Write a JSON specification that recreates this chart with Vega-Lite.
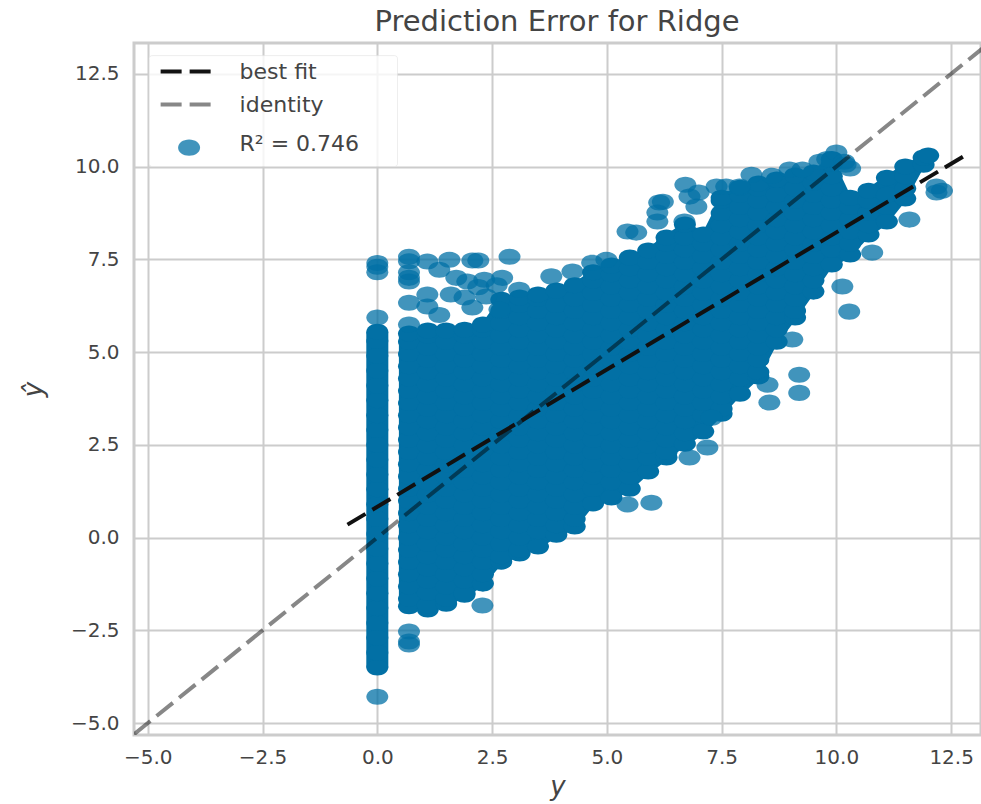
{"$schema":"https://vega.github.io/schema/vega-lite/v6.json","width":847,"height":692,"autosize":{"type":"none"},"padding":{"left":134,"top":43,"right":0,"bottom":69},"background":"white",
"title":{"text":"Prediction Error for Ridge","font":"DejaVu Sans","fontSize":29,"fontWeight":"normal","color":"#444444","anchor":"start","offset":6,"dx":354},
"config":{"view":{"stroke":"#cccccc","strokeWidth":3},"axis":{"grid":true,"gridColor":"#cccccc","gridWidth":2,"domain":false,"ticks":false,"labelFont":"DejaVu Sans","labelFontSize":20,"labelColor":"#444444","titleFont":"DejaVu Sans","titleFontSize":26,"titleFontStyle":"italic","titleFontWeight":"normal","titleColor":"#444444"}},
"datasets":{
"mass":[
{"g":"zero","x":-0.24,"lo":-3.5,"hi":5.55},{"g":"zero","x":0.24,"lo":-3.5,"hi":5.55},
{"g":"main","x":0.47,"lo":-1.85,"hi":5.5},{"g":"main","x":0.69,"lo":-1.93,"hi":5.58},{"g":"main","x":1.1,"lo":-2.02,"hi":5.66},{"g":"main","x":1.5,"lo":-1.86,"hi":5.66},{"g":"main","x":1.9,"lo":-1.62,"hi":5.68},{"g":"main","x":2.3,"lo":-1.32,"hi":5.82},{"g":"main","x":2.7,"lo":-0.73,"hi":6.49},{"g":"main","x":3.1,"lo":-0.51,"hi":6.55},{"g":"main","x":3.5,"lo":-0.32,"hi":6.63},{"g":"main","x":3.9,"lo":0,"hi":6.74},{"g":"main","x":4.3,"lo":0.22,"hi":6.88},{"g":"main","x":4.7,"lo":0.84,"hi":7.23},{"g":"main","x":5.1,"lo":1,"hi":7.41},{"g":"main","x":5.5,"lo":1.24,"hi":7.63},{"g":"main","x":5.9,"lo":1.7,"hi":7.82},{"g":"main","x":6.3,"lo":2.08,"hi":8.17},{"g":"main","x":6.7,"lo":2.45,"hi":8.52},{"g":"main","x":7.1,"lo":2.78,"hi":8.25},{"g":"main","x":7.5,"lo":3.26,"hi":9.24},{"g":"main","x":7.9,"lo":3.8,"hi":9.51},{"g":"main","x":8.3,"lo":4.26,"hi":9.62},{"g":"main","x":8.7,"lo":5.2,"hi":9.73},{"g":"main","x":9.1,"lo":5.85,"hi":9.84},{"g":"main","x":9.5,"lo":6.55,"hi":9.92},{"g":"main","x":9.9,"lo":7.28,"hi":10.28},{"g":"main","x":10.3,"lo":7.55,"hi":9.24},{"g":"main","x":10.7,"lo":8.09,"hi":9.43},{"g":"main","x":11.1,"lo":8.44,"hi":9.78},{"g":"main","x":11.5,"lo":9.06,"hi":10.08},{"g":"main","x":11.9,"lo":9.97,"hi":10.32}
],
"core":[
{"x":0,"y":-3.5},{"x":0,"y":-3.1},{"x":0,"y":-2.7},{"x":0,"y":-2.3},{"x":0,"y":-1.9},{"x":0,"y":-1.5},{"x":0,"y":-1.1},{"x":0,"y":-0.7},{"x":0,"y":-0.3},{"x":0,"y":0.1},{"x":0,"y":0.5},{"x":0,"y":0.9},{"x":0,"y":1.3},{"x":0,"y":1.7},{"x":0,"y":2.1},{"x":0,"y":2.5},{"x":0,"y":2.9},{"x":0,"y":3.3},{"x":0,"y":3.7},{"x":0,"y":4.1},{"x":0,"y":4.5},{"x":0,"y":4.9},{"x":0,"y":5.3},{"x":0,"y":5.55},
{"x":0.69,"y":-1.85},{"x":0.69,"y":-1.65},{"x":0.69,"y":-1.32},{"x":0.69,"y":-0.99},{"x":0.69,"y":-0.66},{"x":0.69,"y":-0.33},{"x":0.69,"y":0},{"x":0.69,"y":0.33},{"x":0.69,"y":0.66},{"x":0.69,"y":0.99},{"x":0.69,"y":1.32},{"x":0.69,"y":1.65},{"x":0.69,"y":1.98},{"x":0.69,"y":2.31},{"x":0.69,"y":2.64},{"x":0.69,"y":2.97},{"x":0.69,"y":3.3},{"x":0.69,"y":3.63},{"x":0.69,"y":3.96},{"x":0.69,"y":4.29},{"x":0.69,"y":4.62},{"x":0.69,"y":4.95},{"x":0.69,"y":5.28},{"x":0.69,"y":5.5},
{"x":1.1,"y":-1.94},{"x":1.1,"y":-1.82},{"x":1.1,"y":-1.49},{"x":1.1,"y":-1.16},{"x":1.1,"y":-0.83},{"x":1.1,"y":-0.5},{"x":1.1,"y":-0.17},{"x":1.1,"y":0.17},{"x":1.1,"y":0.5},{"x":1.1,"y":0.83},{"x":1.1,"y":1.16},{"x":1.1,"y":1.49},{"x":1.1,"y":1.82},{"x":1.1,"y":2.15},{"x":1.1,"y":2.48},{"x":1.1,"y":2.81},{"x":1.1,"y":3.14},{"x":1.1,"y":3.47},{"x":1.1,"y":3.8},{"x":1.1,"y":4.13},{"x":1.1,"y":4.46},{"x":1.1,"y":4.79},{"x":1.1,"y":5.12},{"x":1.1,"y":5.45},{"x":1.1,"y":5.58},
{"x":1.5,"y":-1.78},{"x":1.5,"y":-1.65},{"x":1.5,"y":-1.32},{"x":1.5,"y":-0.99},{"x":1.5,"y":-0.66},{"x":1.5,"y":-0.33},{"x":1.5,"y":0},{"x":1.5,"y":0.33},{"x":1.5,"y":0.66},{"x":1.5,"y":0.99},{"x":1.5,"y":1.32},{"x":1.5,"y":1.65},{"x":1.5,"y":1.98},{"x":1.5,"y":2.31},{"x":1.5,"y":2.64},{"x":1.5,"y":2.97},{"x":1.5,"y":3.3},{"x":1.5,"y":3.63},{"x":1.5,"y":3.96},{"x":1.5,"y":4.29},{"x":1.5,"y":4.62},{"x":1.5,"y":4.95},{"x":1.5,"y":5.28},{"x":1.5,"y":5.58},
{"x":1.9,"y":-1.54},{"x":1.9,"y":-1.49},{"x":1.9,"y":-1.16},{"x":1.9,"y":-0.83},{"x":1.9,"y":-0.5},{"x":1.9,"y":-0.17},{"x":1.9,"y":0.17},{"x":1.9,"y":0.5},{"x":1.9,"y":0.83},{"x":1.9,"y":1.16},{"x":1.9,"y":1.49},{"x":1.9,"y":1.82},{"x":1.9,"y":2.15},{"x":1.9,"y":2.48},{"x":1.9,"y":2.81},{"x":1.9,"y":3.14},{"x":1.9,"y":3.47},{"x":1.9,"y":3.8},{"x":1.9,"y":4.13},{"x":1.9,"y":4.46},{"x":1.9,"y":4.79},{"x":1.9,"y":5.12},{"x":1.9,"y":5.45},{"x":1.9,"y":5.6},
{"x":2.3,"y":-1.24},{"x":2.3,"y":-0.99},{"x":2.3,"y":-0.66},{"x":2.3,"y":-0.33},{"x":2.3,"y":0},{"x":2.3,"y":0.33},{"x":2.3,"y":0.66},{"x":2.3,"y":0.99},{"x":2.3,"y":1.32},{"x":2.3,"y":1.65},{"x":2.3,"y":1.98},{"x":2.3,"y":2.31},{"x":2.3,"y":2.64},{"x":2.3,"y":2.97},{"x":2.3,"y":3.3},{"x":2.3,"y":3.63},{"x":2.3,"y":3.96},{"x":2.3,"y":4.29},{"x":2.3,"y":4.62},{"x":2.3,"y":4.95},{"x":2.3,"y":5.28},{"x":2.3,"y":5.61},{"x":2.3,"y":5.74},
{"x":2.7,"y":-0.65},{"x":2.7,"y":-0.5},{"x":2.7,"y":-0.17},{"x":2.7,"y":0.17},{"x":2.7,"y":0.5},{"x":2.7,"y":0.83},{"x":2.7,"y":1.16},{"x":2.7,"y":1.49},{"x":2.7,"y":1.82},{"x":2.7,"y":2.15},{"x":2.7,"y":2.48},{"x":2.7,"y":2.81},{"x":2.7,"y":3.14},{"x":2.7,"y":3.47},{"x":2.7,"y":3.8},{"x":2.7,"y":4.13},{"x":2.7,"y":4.46},{"x":2.7,"y":4.79},{"x":2.7,"y":5.12},{"x":2.7,"y":5.45},{"x":2.7,"y":5.78},{"x":2.7,"y":6.11},{"x":2.7,"y":6.41},
{"x":3.1,"y":-0.43},{"x":3.1,"y":-0.33},{"x":3.1,"y":0},{"x":3.1,"y":0.33},{"x":3.1,"y":0.66},{"x":3.1,"y":0.99},{"x":3.1,"y":1.32},{"x":3.1,"y":1.65},{"x":3.1,"y":1.98},{"x":3.1,"y":2.31},{"x":3.1,"y":2.64},{"x":3.1,"y":2.97},{"x":3.1,"y":3.3},{"x":3.1,"y":3.63},{"x":3.1,"y":3.96},{"x":3.1,"y":4.29},{"x":3.1,"y":4.62},{"x":3.1,"y":4.95},{"x":3.1,"y":5.28},{"x":3.1,"y":5.61},{"x":3.1,"y":5.94},{"x":3.1,"y":6.27},{"x":3.1,"y":6.47},
{"x":3.5,"y":-0.24},{"x":3.5,"y":0.17},{"x":3.5,"y":0.5},{"x":3.5,"y":0.83},{"x":3.5,"y":1.16},{"x":3.5,"y":1.49},{"x":3.5,"y":1.82},{"x":3.5,"y":2.15},{"x":3.5,"y":2.48},{"x":3.5,"y":2.81},{"x":3.5,"y":3.14},{"x":3.5,"y":3.47},{"x":3.5,"y":3.8},{"x":3.5,"y":4.13},{"x":3.5,"y":4.46},{"x":3.5,"y":4.79},{"x":3.5,"y":5.12},{"x":3.5,"y":5.45},{"x":3.5,"y":5.78},{"x":3.5,"y":6.11},{"x":3.5,"y":6.44},{"x":3.5,"y":6.55},
{"x":3.9,"y":0.08},{"x":3.9,"y":0.33},{"x":3.9,"y":0.66},{"x":3.9,"y":0.99},{"x":3.9,"y":1.32},{"x":3.9,"y":1.65},{"x":3.9,"y":1.98},{"x":3.9,"y":2.31},{"x":3.9,"y":2.64},{"x":3.9,"y":2.97},{"x":3.9,"y":3.3},{"x":3.9,"y":3.63},{"x":3.9,"y":3.96},{"x":3.9,"y":4.29},{"x":3.9,"y":4.62},{"x":3.9,"y":4.95},{"x":3.9,"y":5.28},{"x":3.9,"y":5.61},{"x":3.9,"y":5.94},{"x":3.9,"y":6.27},{"x":3.9,"y":6.66},
{"x":4.3,"y":0.3},{"x":4.3,"y":0.5},{"x":4.3,"y":0.83},{"x":4.3,"y":1.16},{"x":4.3,"y":1.49},{"x":4.3,"y":1.82},{"x":4.3,"y":2.15},{"x":4.3,"y":2.48},{"x":4.3,"y":2.81},{"x":4.3,"y":3.14},{"x":4.3,"y":3.47},{"x":4.3,"y":3.8},{"x":4.3,"y":4.13},{"x":4.3,"y":4.46},{"x":4.3,"y":4.79},{"x":4.3,"y":5.12},{"x":4.3,"y":5.45},{"x":4.3,"y":5.78},{"x":4.3,"y":6.11},{"x":4.3,"y":6.44},{"x":4.3,"y":6.8},
{"x":4.7,"y":0.92},{"x":4.7,"y":1.32},{"x":4.7,"y":1.65},{"x":4.7,"y":1.98},{"x":4.7,"y":2.31},{"x":4.7,"y":2.64},{"x":4.7,"y":2.97},{"x":4.7,"y":3.3},{"x":4.7,"y":3.63},{"x":4.7,"y":3.96},{"x":4.7,"y":4.29},{"x":4.7,"y":4.62},{"x":4.7,"y":4.95},{"x":4.7,"y":5.28},{"x":4.7,"y":5.61},{"x":4.7,"y":5.94},{"x":4.7,"y":6.27},{"x":4.7,"y":6.6},{"x":4.7,"y":6.93},{"x":4.7,"y":7.15},
{"x":5.1,"y":1.08},{"x":5.1,"y":1.49},{"x":5.1,"y":1.82},{"x":5.1,"y":2.15},{"x":5.1,"y":2.48},{"x":5.1,"y":2.81},{"x":5.1,"y":3.14},{"x":5.1,"y":3.47},{"x":5.1,"y":3.8},{"x":5.1,"y":4.13},{"x":5.1,"y":4.46},{"x":5.1,"y":4.79},{"x":5.1,"y":5.12},{"x":5.1,"y":5.45},{"x":5.1,"y":5.78},{"x":5.1,"y":6.11},{"x":5.1,"y":6.44},{"x":5.1,"y":6.77},{"x":5.1,"y":7.1},{"x":5.1,"y":7.33},
{"x":5.5,"y":1.32},{"x":5.5,"y":1.65},{"x":5.5,"y":1.98},{"x":5.5,"y":2.31},{"x":5.5,"y":2.64},{"x":5.5,"y":2.97},{"x":5.5,"y":3.3},{"x":5.5,"y":3.63},{"x":5.5,"y":3.96},{"x":5.5,"y":4.29},{"x":5.5,"y":4.62},{"x":5.5,"y":4.95},{"x":5.5,"y":5.28},{"x":5.5,"y":5.61},{"x":5.5,"y":5.94},{"x":5.5,"y":6.27},{"x":5.5,"y":6.6},{"x":5.5,"y":6.93},{"x":5.5,"y":7.26},{"x":5.5,"y":7.55},
{"x":5.9,"y":1.78},{"x":5.9,"y":2.15},{"x":5.9,"y":2.48},{"x":5.9,"y":2.81},{"x":5.9,"y":3.14},{"x":5.9,"y":3.47},{"x":5.9,"y":3.8},{"x":5.9,"y":4.13},{"x":5.9,"y":4.46},{"x":5.9,"y":4.79},{"x":5.9,"y":5.12},{"x":5.9,"y":5.45},{"x":5.9,"y":5.78},{"x":5.9,"y":6.11},{"x":5.9,"y":6.44},{"x":5.9,"y":6.77},{"x":5.9,"y":7.1},{"x":5.9,"y":7.43},{"x":5.9,"y":7.74},
{"x":6.3,"y":2.16},{"x":6.3,"y":2.31},{"x":6.3,"y":2.64},{"x":6.3,"y":2.97},{"x":6.3,"y":3.3},{"x":6.3,"y":3.63},{"x":6.3,"y":3.96},{"x":6.3,"y":4.29},{"x":6.3,"y":4.62},{"x":6.3,"y":4.95},{"x":6.3,"y":5.28},{"x":6.3,"y":5.61},{"x":6.3,"y":5.94},{"x":6.3,"y":6.27},{"x":6.3,"y":6.6},{"x":6.3,"y":6.93},{"x":6.3,"y":7.26},{"x":6.3,"y":7.59},{"x":6.3,"y":7.92},{"x":6.3,"y":8.09},
{"x":6.7,"y":2.53},{"x":6.7,"y":2.81},{"x":6.7,"y":3.14},{"x":6.7,"y":3.47},{"x":6.7,"y":3.8},{"x":6.7,"y":4.13},{"x":6.7,"y":4.46},{"x":6.7,"y":4.79},{"x":6.7,"y":5.12},{"x":6.7,"y":5.45},{"x":6.7,"y":5.78},{"x":6.7,"y":6.11},{"x":6.7,"y":6.44},{"x":6.7,"y":6.77},{"x":6.7,"y":7.1},{"x":6.7,"y":7.43},{"x":6.7,"y":7.76},{"x":6.7,"y":8.09},{"x":6.7,"y":8.44},
{"x":7.1,"y":2.86},{"x":7.1,"y":3.3},{"x":7.1,"y":3.63},{"x":7.1,"y":3.96},{"x":7.1,"y":4.29},{"x":7.1,"y":4.62},{"x":7.1,"y":4.95},{"x":7.1,"y":5.28},{"x":7.1,"y":5.61},{"x":7.1,"y":5.94},{"x":7.1,"y":6.27},{"x":7.1,"y":6.6},{"x":7.1,"y":6.93},{"x":7.1,"y":7.26},{"x":7.1,"y":7.59},{"x":7.1,"y":7.92},{"x":7.1,"y":8.17},
{"x":7.5,"y":3.34},{"x":7.5,"y":3.47},{"x":7.5,"y":3.8},{"x":7.5,"y":4.13},{"x":7.5,"y":4.46},{"x":7.5,"y":4.79},{"x":7.5,"y":5.12},{"x":7.5,"y":5.45},{"x":7.5,"y":5.78},{"x":7.5,"y":6.11},{"x":7.5,"y":6.44},{"x":7.5,"y":6.77},{"x":7.5,"y":7.1},{"x":7.5,"y":7.43},{"x":7.5,"y":7.76},{"x":7.5,"y":8.09},{"x":7.5,"y":8.42},{"x":7.5,"y":8.75},{"x":7.5,"y":9.08},{"x":7.5,"y":9.16},
{"x":7.9,"y":3.88},{"x":7.9,"y":4.29},{"x":7.9,"y":4.62},{"x":7.9,"y":4.95},{"x":7.9,"y":5.28},{"x":7.9,"y":5.61},{"x":7.9,"y":5.94},{"x":7.9,"y":6.27},{"x":7.9,"y":6.6},{"x":7.9,"y":6.93},{"x":7.9,"y":7.26},{"x":7.9,"y":7.59},{"x":7.9,"y":7.92},{"x":7.9,"y":8.25},{"x":7.9,"y":8.58},{"x":7.9,"y":8.91},{"x":7.9,"y":9.24},{"x":7.9,"y":9.43},
{"x":8.3,"y":4.34},{"x":8.3,"y":4.46},{"x":8.3,"y":4.79},{"x":8.3,"y":5.12},{"x":8.3,"y":5.45},{"x":8.3,"y":5.78},{"x":8.3,"y":6.11},{"x":8.3,"y":6.44},{"x":8.3,"y":6.77},{"x":8.3,"y":7.1},{"x":8.3,"y":7.43},{"x":8.3,"y":7.76},{"x":8.3,"y":8.09},{"x":8.3,"y":8.42},{"x":8.3,"y":8.75},{"x":8.3,"y":9.08},{"x":8.3,"y":9.41},{"x":8.3,"y":9.54},
{"x":8.7,"y":5.28},{"x":8.7,"y":5.61},{"x":8.7,"y":5.94},{"x":8.7,"y":6.27},{"x":8.7,"y":6.6},{"x":8.7,"y":6.93},{"x":8.7,"y":7.26},{"x":8.7,"y":7.59},{"x":8.7,"y":7.92},{"x":8.7,"y":8.25},{"x":8.7,"y":8.58},{"x":8.7,"y":8.91},{"x":8.7,"y":9.24},{"x":8.7,"y":9.65},
{"x":9.1,"y":5.93},{"x":9.1,"y":6.11},{"x":9.1,"y":6.44},{"x":9.1,"y":6.77},{"x":9.1,"y":7.1},{"x":9.1,"y":7.43},{"x":9.1,"y":7.76},{"x":9.1,"y":8.09},{"x":9.1,"y":8.42},{"x":9.1,"y":8.75},{"x":9.1,"y":9.08},{"x":9.1,"y":9.41},{"x":9.1,"y":9.76},
{"x":9.5,"y":6.63},{"x":9.5,"y":6.93},{"x":9.5,"y":7.26},{"x":9.5,"y":7.59},{"x":9.5,"y":7.92},{"x":9.5,"y":8.25},{"x":9.5,"y":8.58},{"x":9.5,"y":8.91},{"x":9.5,"y":9.24},{"x":9.5,"y":9.57},{"x":9.5,"y":9.84},
{"x":9.9,"y":7.36},{"x":9.9,"y":7.76},{"x":9.9,"y":8.09},{"x":9.9,"y":8.42},{"x":9.9,"y":8.75},{"x":9.9,"y":9.08},{"x":9.9,"y":9.41},{"x":9.9,"y":9.74},{"x":9.9,"y":10.07},{"x":9.9,"y":10.2},
{"x":10.3,"y":7.63},{"x":10.3,"y":7.92},{"x":10.3,"y":8.25},{"x":10.3,"y":8.58},{"x":10.3,"y":8.91},{"x":10.3,"y":9.16},
{"x":10.7,"y":8.17},{"x":10.7,"y":8.42},{"x":10.7,"y":8.75},{"x":10.7,"y":9.08},{"x":10.7,"y":9.35},
{"x":11.1,"y":8.52},{"x":11.1,"y":8.91},{"x":11.1,"y":9.24},{"x":11.1,"y":9.7},
{"x":11.5,"y":9.14},{"x":11.5,"y":9.41},{"x":11.5,"y":9.74},{"x":11.5,"y":10.0},
{"x":11.9,"y":10.05},{"x":11.9,"y":10.24},{"x":12.0,"y":10.3}
],
"edge":[
{"x":0,"y":7.4},{"x":0,"y":7.3},{"x":0,"y":7.15},{"x":0,"y":5.93},{"x":0,"y":-4.29},
{"x":0.69,"y":7.57},{"x":0.69,"y":7.45},{"x":0.69,"y":7.15},{"x":0.69,"y":7.0},{"x":0.69,"y":6.9},{"x":0.69,"y":6.33},{"x":0.69,"y":5.74},{"x":0.69,"y":-2.53},{"x":0.69,"y":-2.8},{"x":0.69,"y":-2.88},
{"x":1.09,"y":7.44},{"x":1.35,"y":7.22},{"x":1.57,"y":7.49},{"x":2.07,"y":7.47},{"x":2.2,"y":7.47},{"x":2.88,"y":7.57},{"x":1.72,"y":7.0},{"x":1.96,"y":6.9},{"x":2.33,"y":6.95},{"x":2.72,"y":7.0},{"x":2.6,"y":6.8},{"x":2.2,"y":6.75},{"x":1.09,"y":6.55},{"x":1.09,"y":6.23},{"x":1.35,"y":6.0},{"x":1.6,"y":6.55},{"x":1.9,"y":6.47},{"x":2.07,"y":6.2},{"x":2.37,"y":6.5},{"x":2.66,"y":6.15},{"x":3.09,"y":6.68},{"x":3.79,"y":7.04},{"x":4.25,"y":7.17},{"x":4.68,"y":7.41},{"x":4.99,"y":7.49},
{"x":5.45,"y":8.25},{"x":5.64,"y":8.22},{"x":6.14,"y":9.03},{"x":6.22,"y":9.05},{"x":6.1,"y":8.76},{"x":6.1,"y":8.52},{"x":6.71,"y":9.51},{"x":6.8,"y":9.19},{"x":6.95,"y":8.92},{"x":7.0,"y":9.3},{"x":6.69,"y":8.52},{"x":7.39,"y":9.46},{"x":7.6,"y":9.46},{"x":8.15,"y":9.78},{"x":7.89,"y":9.46},{"x":8.6,"y":9.75},{"x":8.98,"y":9.92},{"x":9.26,"y":9.92},{"x":9.63,"y":10.13},{"x":9.8,"y":10.2},{"x":10.0,"y":10.38},{"x":10.17,"y":10.13},{"x":10.2,"y":10.05},{"x":10.3,"y":9.95},
{"x":2.29,"y":-1.83},{"x":5.45,"y":0.89},{"x":5.97,"y":0.94},{"x":6.8,"y":2.16},{"x":7.19,"y":2.43},{"x":7.28,"y":3.23},{"x":8.54,"y":3.64},{"x":8.5,"y":4.12},{"x":9.19,"y":3.9},{"x":9.19,"y":4.39},{"x":9.04,"y":5.34},{"x":10.28,"y":6.09},{"x":10.13,"y":6.77},{"x":10.78,"y":7.68},{"x":11.59,"y":8.57},{"x":12.18,"y":9.46},{"x":12.18,"y":9.3},{"x":12.3,"y":9.35}
],
"fits":[
{"series":"best fit","x":-0.65,"y":0.35},{"series":"best fit","x":12.83,"y":10.32},
{"series":"identity","x":-5.3,"y":-5.3},{"series":"identity","x":13.34,"y":13.34}
],
"key":[
{"series":"best fit","x":-4.72,"x2":-3.59,"y":12.56,"tx":-3.0,"ty":12.56,"label":"best fit"},
{"series":"identity","x":-4.72,"x2":-3.59,"y":11.67,"tx":-3.0,"ty":11.67,"label":"identity"},
{"series":"r2","x":-4.1,"y":10.51,"tx":-3.0,"ty":10.62,"label":"R² = 0.746"}
]
},
"encoding":{
"x":{"field":"x","type":"quantitative","scale":{"domain":[-5.3,13.15],"nice":false,"zero":false},"axis":{"values":[-5,-2.5,0,2.5,5,7.5,10,12.5],"format":".1f","title":"y","labelPadding":12,"titlePadding":6}},
"y":{"field":"y","type":"quantitative","scale":{"domain":[-5.32,13.33],"nice":false,"zero":false},"axis":{"values":[-5,-2.5,0,2.5,5,7.5,10,12.5],"format":".1f","title":"ŷ","labelPadding":15,"titlePadding":24}}
},
"layer":[
{"data":{"name":"mass"},"mark":{"type":"area","color":"#0270a5","opacity":1},"encoding":{"y":{"field":"hi","type":"quantitative"},"y2":{"field":"lo"},"detail":{"field":"g"}}},
{"data":{"name":"core"},"mark":{"type":"point","filled":true,"shape":"M-1,0A1,.73,0,1,1,1,0A1,.73,0,1,1,-1,0Z","size":484,"opacity":1,"color":"#0270a5"}},
{"data":{"name":"edge"},"mark":{"type":"point","filled":true,"shape":"M-1,0A1,.73,0,1,1,1,0A1,.73,0,1,1,-1,0Z","size":484,"opacity":0.75,"color":"#0270a5"}},
{"data":{"name":"fits"},"transform":[{"filter":"datum.series==='identity'"}],"mark":{"type":"line","color":"#000000","opacity":0.47,"strokeWidth":4,"strokeDash":[21,8],"clip":true},"encoding":{"detail":{"field":"series"}}},
{"data":{"name":"fits"},"transform":[{"filter":"datum.series==='best fit'"}],"mark":{"type":"line","color":"#111111","strokeWidth":4,"strokeDash":[21,8],"clip":true},"encoding":{"detail":{"field":"series"}}},
{"data":{"values":[{"x":-4.97,"x2":0.44,"y":12.99,"y2":10.0}]},"mark":{"type":"rect","fill":"#ffffff","fillOpacity":0.8,"stroke":"#dddddd","strokeOpacity":0.5,"cornerRadius":3},"encoding":{"x2":{"field":"x2"},"y2":{"field":"y2"}}},
{"data":{"name":"key"},"transform":[{"filter":"datum.series==='best fit'"}],"mark":{"type":"rule","color":"#111111","strokeWidth":4,"strokeDash":[21,8]},"encoding":{"x2":{"field":"x2"}}},
{"data":{"name":"key"},"transform":[{"filter":"datum.series==='identity'"}],"mark":{"type":"rule","color":"#000000","opacity":0.47,"strokeWidth":4,"strokeDash":[21,8]},"encoding":{"x2":{"field":"x2"}}},
{"data":{"name":"key"},"transform":[{"filter":"datum.series==='r2'"}],"mark":{"type":"point","filled":true,"shape":"M-1,0A1,.73,0,1,1,1,0A1,.73,0,1,1,-1,0Z","size":484,"opacity":0.75,"color":"#0270a5"}},
{"data":{"name":"key"},"mark":{"type":"text","align":"left","baseline":"middle","font":"DejaVu Sans","fontSize":22,"color":"#444444"},"encoding":{"x":{"field":"tx","type":"quantitative"},"y":{"field":"ty","type":"quantitative"},"text":{"field":"label"}}}
]
}
